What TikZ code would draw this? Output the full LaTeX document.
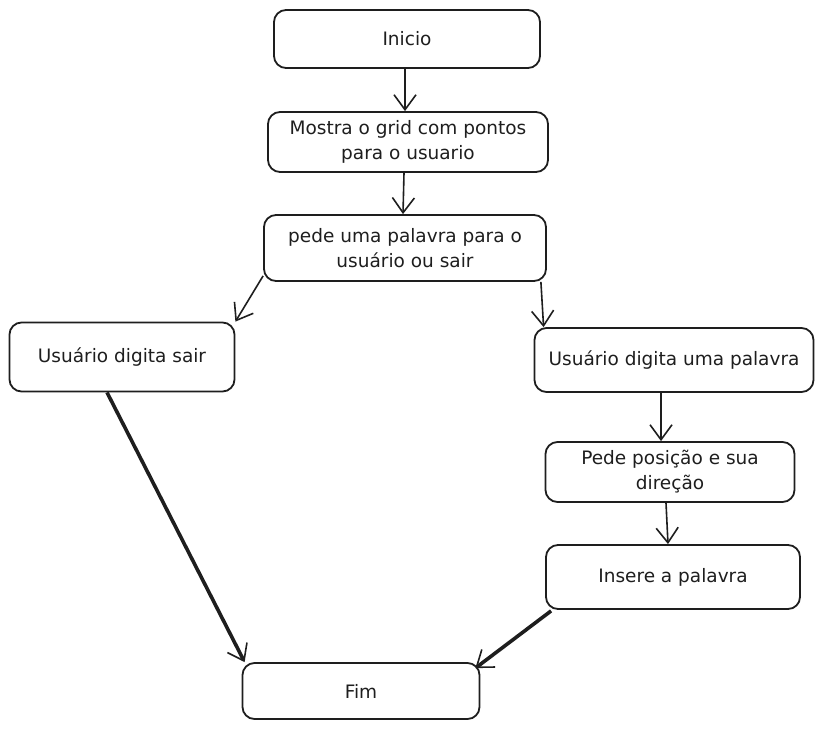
\documentclass[tikz,border=0pt]{standalone}
\usepackage{fontspec}
\setmainfont{DejaVu Sans}
\usepackage{xcolor}
\usepackage{tikz}
\usetikzlibrary{arrows.meta, positioning, calc}

\definecolor{ink}{HTML}{1E1E1E}

\begin{document}
\begin{tikzpicture}[x=1pt, y=-1pt,
  box/.style={draw=ink, line width=1.8pt, rounded corners=12pt, align=center,
    inner sep=0pt, text=ink, font=\fontsize{18.5}{25}\selectfont},
  flow/.style={draw=ink, line width=1.6pt,
    -{Straight Barb[length=15pt, width=22pt, line width=1.6pt]}},
  heavy/.style={flow, line width=3.6pt}]

\useasboundingbox (0,0) rectangle (824,730);

\node[box, minimum width=266pt, minimum height=58pt] (inicio) at (407,39) {Inicio};
\node[box, minimum width=280pt, minimum height=60pt] (mostra) at (408,142)
  {Mostra o grid com pontos\\para o usuario};
\node[box, minimum width=282pt, minimum height=66pt] (pede) at (405,248)
  {pede uma palavra para o\\usuário ou sair};

\node[box, minimum width=225pt, minimum height=69pt] (sair) at (122,357) {Usuário digita sair};
\node[box, minimum width=279pt, minimum height=64pt] (palavra) at (674,360) {Usuário digita uma palavra};
\node[box, minimum width=249pt, minimum height=60pt] (posicao) at (670,472)
  {Pede posição e sua\\direção};
\node[box, minimum width=254pt, minimum height=64pt] (insere) at (673,577) {Insere a palavra};

\node[box, minimum width=237pt, minimum height=56pt] (fim) at (361,691) {Fim};

\draw[flow] ([xshift=-2pt]inicio.south) -- ([xshift=-3pt]mostra.north);
\draw[flow] ([xshift=-4pt]mostra.south) -- ([xshift=-2pt]pede.north);
\draw[flow] ([yshift=6pt]pede.south west) -- (sair.north east);
\draw[flow] ([xshift=-6pt]pede.south east) -- ([xshift=10pt]palavra.north west);
\draw[flow] ([xshift=-13pt]palavra.south) -- ([xshift=-9pt]posicao.north);
\draw[flow] ([xshift=-4pt]posicao.south) -- ([xshift=-5pt]insere.north);

\draw[heavy] ([xshift=-15pt]sair.south) -- ([xshift=3pt]fim.north west);
\draw[heavy] ([xshift=6pt,yshift=-1pt]insere.south west) -- ([xshift=-5pt,yshift=-6pt]fim.north east);

\end{tikzpicture}
\end{document}
